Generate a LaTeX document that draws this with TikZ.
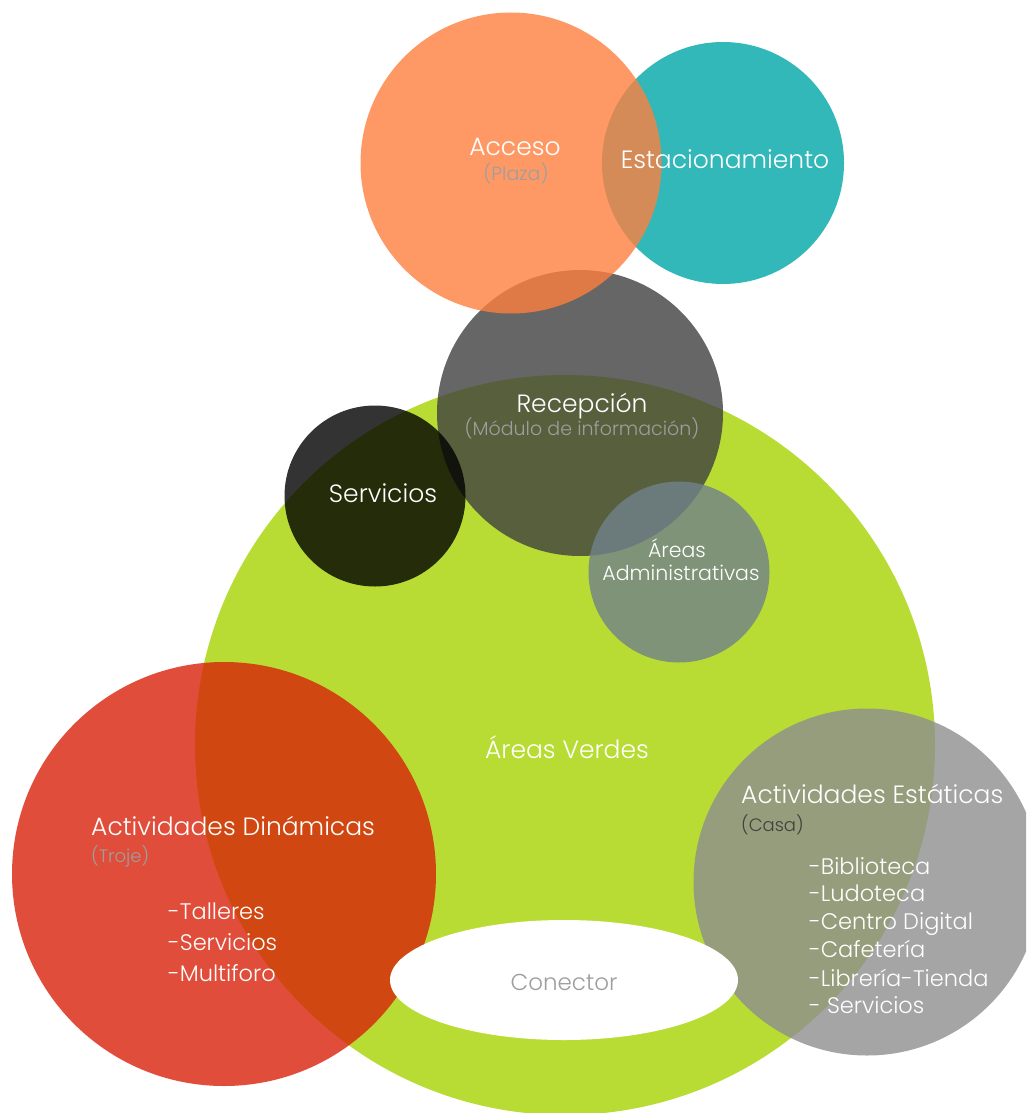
\documentclass[tikz,border=0pt]{standalone}
\usepackage{fontspec}
\setmainfont{Poppins}[UprightFont=* Light]
\usetikzlibrary{shapes.geometric}
\definecolor{cgreen}{HTML}{B9DC34}
\definecolor{cteal}{HTML}{33B8B9}
\definecolor{corange}{HTML}{FE8040}
\definecolor{cdark}{HTML}{404040}
\definecolor{cadmin}{HTML}{70818A}
\definecolor{cred}{HTML}{D8220A}
\definecolor{cstat}{HTML}{8E8E8E}
\definecolor{csub}{HTML}{9E9E9E}
\definecolor{ccasa}{HTML}{404040}
\tikzset{
  disc/.style={circle, inner sep=0pt, draw=none},
  ttl/.style={text=white, font=\fontsize{25}{28}\selectfont, inner sep=0pt, anchor=base},
  sub/.style={text=csub, font=\fontsize{19}{22}\selectfont, inner sep=0pt, anchor=base},
  itm/.style={text=white, font=\fontsize{22.5}{26}\selectfont, inner sep=0pt, anchor=base west},
}
\begin{document}
\begin{tikzpicture}[x=1pt,y=-1pt]
\useasboundingbox (0,0) rectangle (1026,1113);
\clip (0,0) rectangle (1026,1113);
% big green
\node[disc, fill=cgreen, minimum size=740pt] (verdes) at (565,745) {};
% recepcion
\node[disc, fill=cdark, fill opacity=0.8, minimum size=286pt] (recep) at (580,413) {};
% servicios
\node[disc, fill=black, fill opacity=0.8, minimum size=181pt] (serv) at (375,496) {};
% admin
\node[disc, fill=cadmin, fill opacity=0.8, minimum size=181pt] (admin) at (679,572) {};
% teal
\node[disc, fill=cteal, minimum size=242pt] (estac) at (723,163) {};
% orange
\node[disc, fill=corange, fill opacity=0.8, minimum size=301pt] (acceso) at (511,163) {};
% red
\node[disc, fill=cred, fill opacity=0.8, minimum size=424pt] (dina) at (224,874) {};
% grey static
\node[disc, fill=cstat, fill opacity=0.8, minimum size=347pt] (esta) at (867,882) {};
% conector
\node[ellipse, fill=white, minimum width=348pt, minimum height=120pt, inner sep=0pt] (conec) at (564,980) {};

% texts
\node[ttl] (tacc) at (515,155) {Acceso};
\node[sub] (tplaza) at (516,180) {(Plaza)};
\node[ttl] (test) at (725,168) {Estacionamiento};
\node[ttl] (trec) at (582,412) {Recepción};
\node[sub] (tmod) at (582,435) {(Módulo de información)};
\node[ttl] (tserv) at (383,502) {Servicios};
\node[text=white, font=\fontsize{20.5}{24}\selectfont, inner sep=0pt, anchor=base] (tar1) at (677,557) {Áreas};
\node[text=white, font=\fontsize{20.5}{24}\selectfont, inner sep=0pt, anchor=base] (tar2) at (681,580) {Administrativas};
\node[ttl] (tver) at (567,758) {Áreas Verdes};
\node[ttl, anchor=base west] (tdin) at (91,835) {Actividades Dinámicas};
\node[sub, anchor=base west, font=\fontsize{18}{21}\selectfont] (ttroje) at (91,862) {(Troje)};
\node[itm] (i1) at (168,919) {-Talleres};
\node[itm] (i2) at (168,950) {-Servicios};
\node[itm] (i3) at (168,981) {-Multiforo};
\node[ttl, anchor=base west] (tesa) at (741,803) {Actividades Estáticas};
\node[sub, anchor=base west, text=ccasa, font=\fontsize{18}{21}\selectfont] (tcasa) at (741,831) {(Casa)};
\node[itm] (j1) at (809,874) {-Biblioteca};
\node[itm] (j2) at (809,901) {-Ludoteca};
\node[itm] (j3) at (809,929) {-Centro Digital};
\node[itm] (j4) at (809,957) {-Cafetería};
\node[itm] (j5) at (809,986) {-Librería-Tienda};
\node[itm] (j6) at (809,1013) {- Servicios};
\node[sub, font=\fontsize{23}{26}\selectfont] (tcon) at (564,990) {Conector};
\end{tikzpicture}
\end{document}
